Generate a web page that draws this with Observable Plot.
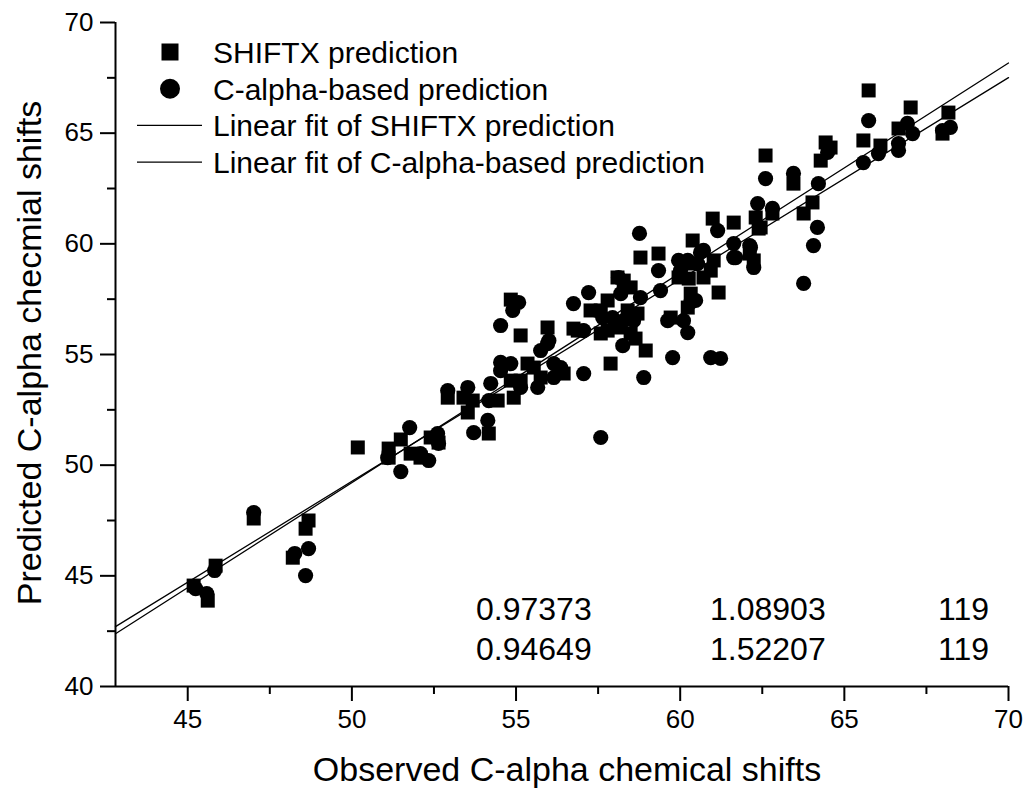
<!DOCTYPE html>
<html>
<head>
<meta charset="utf-8">
<script src="https://cdn.jsdelivr.net/npm/d3@7"></script>
<script src="https://cdn.jsdelivr.net/npm/@observablehq/plot@0.6"></script>
<style>
  html, body { margin: 0; padding: 0; background: white; }
  #chart { width: 1027px; height: 788px; }
</style>
</head>
<body>
<div id="chart"></div>
<script>
// ---------- data ----------
const xDomain = [42.8, 70];
const yDomain = [40, 70];
const xTicks = [45, 50, 55, 60, 65, 70];
const xMinorTicks = [47.5, 52.5, 57.5, 62.5, 67.5];
const yTicks = [40, 45, 50, 55, 60, 65, 70];
const yMinorTicks = [42.5, 47.5, 52.5, 57.5, 62.5, 67.5];

const xTitle = "Observed C-alpha chemical shifts";
const yTitle = "Predicted C-alpha checmial shifts";

// SHIFTX prediction (squares)
const shiftxObserved = [
  45.18, 45.61, 45.85, 47.01, 48.20, 48.59, 48.68, 50.18, 51.49, 51.12,
  51.12, 51.79, 52.09, 52.40, 52.64, 52.92, 53.40, 53.68, 53.53, 54.17,
  54.44, 54.84, 55.14, 54.93, 55.35, 55.14, 55.96, 55.54, 55.75, 56.45,
  56.75, 57.27, 57.58, 57.79, 57.79, 58.09, 58.49, 58.40, 58.70, 58.28,
  58.49, 58.79, 59.34, 60.38, 60.32, 60.26, 60.32, 60.23, 59.71, 57.88,
  58.64, 58.95, 60.99, 61.63, 62.45, 60.93, 60.71, 61.17, 59.95, 61.02,
  62.60, 64.28, 63.45, 64.03, 63.76, 62.12, 62.30, 62.39, 62.24, 64.43,
  62.81, 65.74, 67.02, 65.58, 66.10, 66.65, 68.17, 67.99, 64.58, 54.84,
  58.09, 56.88, 57.58
];
const shiftxPredicted = [
  44.56, 43.88, 45.46, 47.59, 45.82, 47.13, 47.50, 50.80, 51.16, 50.75,
  50.34, 50.52, 50.34, 51.25, 51.02, 53.05, 53.05, 52.92, 52.38, 51.43,
  52.92, 53.82, 53.82, 53.05, 54.59, 55.86, 56.22, 54.41, 53.96, 54.14,
  56.17, 56.99, 56.99, 57.44, 56.08, 56.22, 55.95, 56.99, 56.85, 58.34,
  58.03, 59.38, 59.56, 60.15, 59.11, 58.43, 57.75, 57.12, 56.67, 54.59,
  55.72, 55.18, 61.14, 60.96, 60.74, 58.79, 58.48, 57.80, 58.48, 59.25,
  63.99, 63.76, 62.72, 61.87, 61.37, 59.56, 61.19, 60.69, 59.25, 64.58,
  61.37, 66.93, 66.16, 64.67, 64.44, 65.21, 65.93, 64.98, 64.35, 57.48,
  58.48, 56.08, 55.95
];

// C-alpha-based prediction (circles)
const calphaObserved = [
  45.24, 45.58, 45.82, 47.01, 48.26, 48.68, 48.59, 51.76, 51.09, 51.49,
  52.34, 52.61, 52.64, 52.09, 52.92, 53.53, 53.71, 54.14, 54.23, 54.17,
  54.53, 54.84, 54.53, 55.14, 54.53, 54.90, 55.08, 55.75, 55.96, 55.66,
  56.15, 56.15, 58.76, 59.34, 59.95, 60.01, 59.40, 58.12, 58.19, 58.79,
  57.21, 56.75, 57.64, 57.94, 58.28, 58.58, 57.06, 56.00, 56.36, 57.06,
  58.25, 58.89, 59.77, 59.62, 60.10, 60.23, 61.14, 62.36, 62.81, 62.14,
  62.24, 61.63, 60.62, 60.53, 60.32, 60.93, 61.23, 57.58, 62.60, 63.45,
  64.21, 64.49, 64.18, 64.06, 63.76, 62.12, 61.63, 61.69, 60.71, 60.23,
  60.47, 65.74, 66.04, 65.58, 66.92, 67.08, 66.65, 68.23, 67.99, 66.65
];
const calphaPredicted = [
  44.42, 44.20, 45.24, 47.86, 46.01, 46.23, 45.01, 51.70, 50.34, 49.71,
  50.21, 51.43, 50.98, 50.52, 53.37, 53.51, 51.47, 52.02, 53.69, 52.92,
  54.64, 54.59, 54.27, 53.51, 56.31, 56.99, 57.35, 55.18, 55.49, 53.51,
  54.59, 53.96, 60.47, 58.79, 59.25, 58.79, 57.89, 58.48, 57.75, 57.57,
  57.80, 57.30, 56.67, 56.67, 56.53, 56.53, 56.08, 55.63, 54.41, 54.14,
  55.40, 53.96, 54.86, 56.53, 56.53, 55.99, 60.60, 61.82, 61.60, 59.83,
  58.93, 59.38, 59.61, 59.11, 57.35, 54.86, 54.82, 51.25, 62.95, 63.18,
  62.72, 64.13, 60.74, 59.92, 58.21, 59.92, 60.01, 59.38, 59.70, 59.25,
  57.44, 65.57, 64.08, 63.67, 65.44, 64.98, 64.53, 65.26, 65.12, 64.22
];

// linear fits
const fitNames = ["Linear fit of SHIFTX prediction", "Linear fit of C-alpha-based prediction"];
const fitSlopes = [0.948, 0.912];
const fitIntercepts = [1.81, 3.67];

// legend
const legendLabels = ["SHIFTX prediction", "C-alpha-based prediction",
  "Linear fit of SHIFTX prediction", "Linear fit of C-alpha-based prediction"];
const legendKinds = ["square", "circle", "line", "line"];

// statistics table (R, SD, N)
const statR = ["0.97373", "0.94649"];
const statSD = ["1.08903", "1.52207"];
const statN = ["119", "119"];

// ---------- build ----------
const FONT = "'Liberation Sans', Arial, Helvetica, sans-serif";
const W = 1027, H = 788;
const M = {left: 115, right: 19, top: 22, bottom: 102};

const shiftxRows = shiftxObserved.map((x, i) => ({x, y: shiftxPredicted[i]}));
const calphaRows = calphaObserved.map((x, i) => ({x, y: calphaPredicted[i]}));
const fitRows = fitNames.flatMap((fit, i) =>
  xDomain.map(x => ({fit, x, y: fitIntercepts[i] + fitSlopes[i] * x})));

function overlay() {
  const g = d3.create("svg:g")
    .attr("font-family", FONT)
    .attr("fill", "black")
    .attr("text-anchor", "start");

  // legend
  const lx = 213, ly0 = 52, ldy = 36.7, symX = 170;
  legendLabels.forEach((label, i) => {
    const cy = ly0 + i * ldy;
    const kind = legendKinds[i];
    if (kind === "square") {
      g.append("rect").attr("x", symX - 8.5).attr("y", cy - 8.5)
        .attr("width", 17).attr("height", 17).attr("fill", "black");
    } else if (kind === "circle") {
      g.append("circle").attr("cx", symX).attr("cy", cy).attr("r", 10).attr("fill", "black");
    } else {
      g.append("line").attr("x1", 137).attr("x2", 202).attr("y1", cy).attr("y2", cy)
        .attr("stroke", "black").attr("stroke-width", 1.3);
    }
    g.append("text").attr("x", lx).attr("y", cy).attr("dy", "0.36em")
      .attr("text-anchor", "start").attr("font-size", 30).text(label);
  });

  // statistics
  const cols = [476, 710, 938];
  const rows = [608.5, 648];
  [statR, statSD, statN].forEach((col, c) => {
    col.forEach((v, r) => {
      g.append("text").attr("x", cols[c]).attr("y", rows[r]).attr("dy", "0.36em")
        .attr("text-anchor", "start").attr("font-size", 32).text(v);
    });
  });

  // axis titles
  g.append("text").attr("x", 567).attr("y", 781).attr("text-anchor", "middle")
    .attr("font-size", 34).text(xTitle);
  g.append("text").attr("transform", "translate(41,353) rotate(-90)")
    .attr("text-anchor", "middle").attr("font-size", 34).text(yTitle);

  return g.node();
}

const chart = Plot.plot({
  width: W, height: H,
  marginLeft: M.left, marginRight: M.right, marginTop: M.top, marginBottom: M.bottom,
  style: {fontFamily: FONT, background: "white", color: "black", overflow: "visible"},
  x: {domain: xDomain, label: null},
  y: {domain: yDomain, label: null},
  marks: [
    Plot.axisX({ticks: xTicks, tickSize: 15, tickPadding: 8, fontSize: 26, strokeWidth: 2, label: null}),
    Plot.axisX({ticks: xMinorTicks, tickSize: 8, tickFormat: () => "", strokeWidth: 2, label: null}),
    Plot.axisY({ticks: yTicks, tickSize: 15, tickPadding: 7, fontSize: 26, strokeWidth: 2, label: null}),
    Plot.axisY({ticks: yMinorTicks, tickSize: 8, tickFormat: () => "", strokeWidth: 2, label: null}),
    Plot.ruleX([xDomain[0]], {stroke: "black", strokeWidth: 2}),
    Plot.ruleY([yDomain[0]], {stroke: "black", strokeWidth: 2}),
    Plot.line(fitRows, {x: "x", y: "y", z: "fit", stroke: "black", strokeWidth: 1.3}),
    Plot.dot(shiftxRows, {x: "x", y: "y", symbol: "square", r: 7.9, fill: "black"}),
    Plot.dot(calphaRows, {x: "x", y: "y", symbol: "circle", r: 7.6, fill: "black"}),
    overlay
  ]
});
document.getElementById("chart").appendChild(chart);
</script>
</body>
</html>
